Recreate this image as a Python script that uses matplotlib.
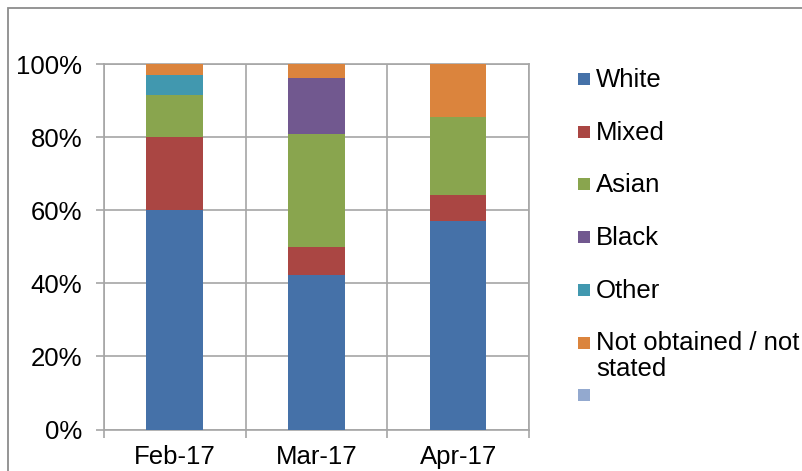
import matplotlib.pyplot as plt
from matplotlib.patches import Rectangle

plt.rcParams['font.family'] = ['Liberation Sans', 'DejaVu Sans']

months = ['Feb-17', 'Mar-17', 'Apr-17']
groups = ['White', 'Mixed', 'Asian', 'Black', 'Other', 'Not obtained / not\nstated', '']
white = [60.0, 42.3, 57.1]
mixed = [20.0, 7.7, 7.1]
asian = [11.4, 30.8, 21.4]
black = [0.0, 15.4, 0.0]
other = [5.7, 0.0, 0.0]
not_stated = [2.9, 3.8, 14.4]
blank = [0.0, 0.0, 0.0]
colors = ['#4571A8', '#AA4643', '#89A54E', '#71588F', '#4198AF', '#DB843D', '#93A9CF']

series = [white, mixed, asian, black, other, not_stated, blank]
grid_col = '#A6A6A6'
W, H = 803, 471

fig = plt.figure(figsize=(W / 100, H / 100), dpi=100)
ax = fig.add_axes([104 / W, 1 - 429.5 / H, 425 / W, 365.5 / H])

x = range(len(months))
bottom = [0.0] * len(months)
for vals, col in zip(series, colors):
    ax.bar(x, vals, width=0.4, bottom=bottom, color=col, zorder=3)
    bottom = [b + v for b, v in zip(bottom, vals)]

ax.set_xlim(-0.5, 2.5)
ax.set_ylim(0, 100)
ax.set_yticks([0, 20, 40, 60, 80, 100])
ax.set_yticklabels(['0%', '20%', '40%', '60%', '80%', '100%'], fontsize=18.5)
ax.set_xticks(list(x))
ax.set_xticklabels(months, fontsize=18.5)
ax.set_xticks([-0.5, 0.5, 1.5, 2.5], minor=True)
ax.tick_params(axis='x', which='major', length=0, pad=11)
ax.tick_params(axis='x', which='minor', length=6, color=grid_col, width=1.2)
ax.tick_params(axis='y', length=6, color=grid_col, width=1.2, pad=9.5)
ax.grid(True, axis='y', color=grid_col, linewidth=1.2, zorder=0)
ax.grid(True, axis='x', which='minor', color=grid_col, linewidth=1.2, zorder=0)
for s in ax.spines.values():
    s.set_color(grid_col)
    s.set_linewidth(1.2)

# legend, drawn by hand so that the two-line label hangs below its marker
for i, (label, col) in enumerate(zip(groups, colors)):
    yc = 79 + i * 52.7
    fig.patches.append(Rectangle((578 / W, 1 - (yc + 6) / H), 12 / W, 12 / H,
                                 transform=fig.transFigure, facecolor=col, edgecolor='none'))
    for j, line in enumerate(label.split('\n')):
        fig.text(596 / W, 1 - (yc + 1 + j * 26) / H, line, fontsize=18.5,
                 ha='left', va='center')

fig.patches.append(Rectangle((8 / W, -0.1), 1.2, 1 - 8 / H + 0.1, transform=fig.transFigure,
                             fill=False, edgecolor='#8C8C8C', linewidth=1.3))

fig.savefig('out.png', dpi=100)
